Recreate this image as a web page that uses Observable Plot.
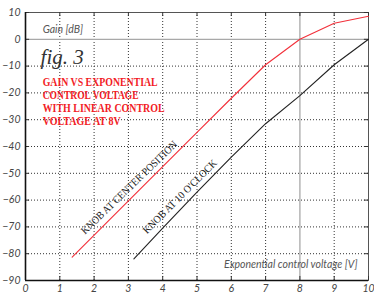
<!DOCTYPE html>
<html>
<head>
<meta charset="utf-8">
<script src="https://cdn.jsdelivr.net/npm/d3@7"></script>
<script src="https://cdn.jsdelivr.net/npm/@observablehq/plot@0.6"></script>
<style>
  html, body { margin: 0; padding: 0; background: #fff; }
</style>
</head>
<body>
<div id="chart"></div>
<script>
// ---- data ----
const xTicks = [0, 1, 2, 3, 4, 5, 6, 7, 8, 9, 10];
const yTicks = [10, 0, -10, -20, -30, -40, -50, -60, -70, -80, -90];

// Knob at center position (red)
const redX = [1.36, 3, 5, 6, 7, 8, 9, 10];
const redY = [-81.3, -60.3, -34.7, -22, -9.5, 0, 6, 8.6];

// Knob at 10 o'clock (black)
const blackX = [3.16, 4, 5, 6, 7, 8, 9, 10];
const blackY = [-81.9, -70.5, -57, -44, -31.5, -21, -9.5, 0];

const titleLines = ["GAIN VS EXPONENTIAL", "CONTROL VOLTAGE", "WITH LINEAR CONTROL", "VOLTAGE AT 8V"];
const curveLabels = ["KNOB AT CENTER POSITION", "KNOB AT 10 O'CLOCK"];
const yTitle = "Gain [dB]";
const xTitle = "Exponential control voltage [V]";
const figLabel = "fig. 3";

// ---- build tables ----
const red = redX.map((x, i) => ({x, y: redY[i]}));
const black = blackX.map((x, i) => ({x, y: blackY[i]}));
const gridXv = xTicks.filter(d => d !== 0 && d !== 8 && d !== 10);
const gridYv = yTicks.filter(d => d !== 10 && d !== 0 && d !== -90);

const serif = "'Liberation Serif', 'Times New Roman', serif";

const chart = Plot.plot({
  width: 374,
  height: 294,
  marginLeft: 25,
  marginRight: 6,
  marginTop: 12,
  marginBottom: 14,
  x: {domain: [0, 10], label: null},
  y: {domain: [-90, 10], label: null},
  style: {background: "#fff", fontFamily: "Lato, 'Open Sans', sans-serif"},
  marks: [
    Plot.gridX(gridXv, {stroke: "#333", strokeOpacity: 1, strokeDasharray: "1,2"}),
    Plot.gridY(gridYv, {stroke: "#333", strokeOpacity: 1, strokeDasharray: "1,2"}),
    Plot.ruleX([8], {stroke: "#a8a8a8", strokeWidth: 1.3}),
    Plot.ruleY([0], {stroke: "#a8a8a8", strokeWidth: 1.3}),
    Plot.frame({stroke: "#555", strokeWidth: 1}),
    // inward ticks on all sides
    Plot.ruleX(xTicks, {x: d => d, y1: 10, y2: 8.5, stroke: "#333"}),
    Plot.ruleX(xTicks, {x: d => d, y1: -90, y2: -88.5, stroke: "#333"}),
    Plot.ruleY(yTicks, {y: d => d, x1: 10, x2: 9.88, stroke: "#333"}),
    Plot.ruleY(yTicks, {y: d => d, x1: 0, x2: 0.12, stroke: "#333"}),
    Plot.ruleX([0], {stroke: "#111", strokeWidth: 1.6}),
    Plot.ruleY([-90], {stroke: "#111", strokeWidth: 1.6}),
    Plot.axisX(xTicks, {tickSize: 0, tickPadding: 4, fontStyle: "italic", fontSize: 10.5, color: "#444", label: null}),
    Plot.axisY(yTicks, {tickSize: 0, tickPadding: 5, fontStyle: "italic", fontSize: 10.5, color: "#444", label: null}),
    Plot.line(red, {x: "x", y: "y", stroke: "#f2303a", strokeWidth: 1.1}),
    Plot.line(black, {x: "x", y: "y", stroke: "#222", strokeWidth: 1.1}),
    // annotations
    Plot.text([yTitle], {x: [0.5], y: [3.6], text: d => d, fontStyle: "italic", fontSize: 10.5, fill: "#555", textAnchor: "start", lineAnchor: "middle"}),
    Plot.text([xTitle], {x: [9.68], y: [-84], text: d => d, fontStyle: "italic", fontSize: 10.5, fill: "#555", textAnchor: "end", lineAnchor: "middle"}),
    Plot.text([figLabel], {x: [0.44], y: [-6.6], text: d => d, fontFamily: serif, fontStyle: "italic", fontSize: 21, fill: "#333", textAnchor: "start", lineAnchor: "middle"}),
    Plot.text(titleLines, {x: [0.5, 0.5, 0.5, 0.5], y: [-15.8, -20.7, -25.6, -30.5], text: d => d, fontFamily: serif, fontWeight: "bold", fontSize: 12.5, fill: "#f21c26", textAnchor: "start", lineAnchor: "middle"}),
    Plot.text([curveLabels[0]], {x: [3.02], y: [-55.3], text: d => d, rotate: -44, fontFamily: serif, fontSize: 10.5, fill: "#222"}),
    Plot.text([curveLabels[1]], {x: [4.5], y: [-58.7], text: d => d, rotate: -45, fontFamily: serif, fontSize: 10.5, fill: "#222"})
  ]
});

// fit text widths to the reference
const fitWidths = new Map([
  [titleLines[0], 115], [titleLines[1], 96], [titleLines[2], 122], [titleLines[3], 78],
  [curveLabels[0], 129], [curveLabels[1], 100]
]);
d3.select(chart).selectAll("text").each(function() {
  const w = fitWidths.get(this.textContent);
  if (w) d3.select(this).attr("textLength", w).attr("lengthAdjust", "spacingAndGlyphs");
});

document.getElementById("chart").appendChild(chart);
</script>
</body>
</html>
